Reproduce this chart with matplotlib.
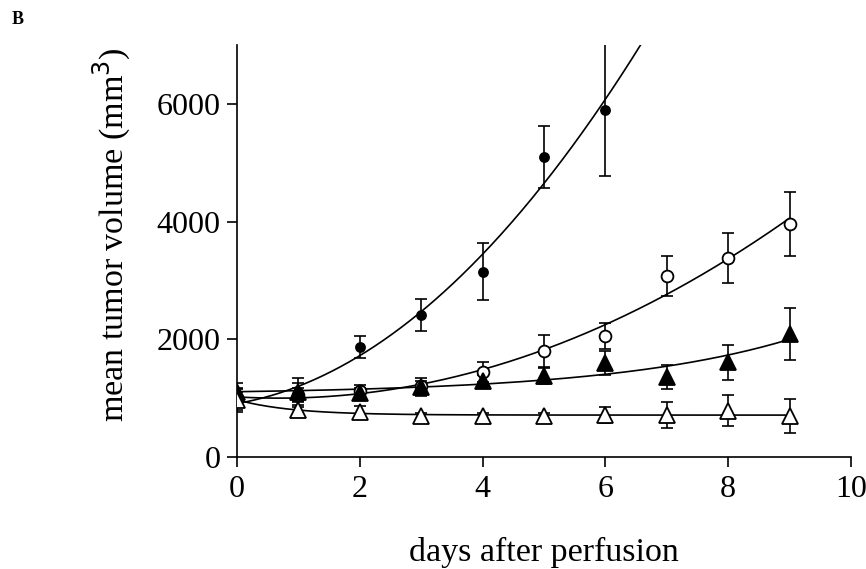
import numpy as np
import matplotlib
matplotlib.use('Agg')
import matplotlib.pyplot as plt

# values (mean tumor volume, mm^3)
days_a = [0, 1, 2, 3, 4, 5, 6]
vol_a = [950, 1100, 1870, 2410, 3150, 5100, 5900]          # filled circles
err_a = [150, 150, 190, 270, 480, 530, 1130]

days_b = [0, 1, 2, 3, 4, 5, 6, 7, 8, 9]
vol_b = [1000, 1050, 1120, 1200, 1440, 1800, 2060, 3080, 3380, 3960]   # open circles
err_b = [150, 120, 100, 100, 170, 270, 220, 340, 420, 550]

vol_c = [1100, 1100, 1080, 1190, 1300, 1380, 1600, 1360, 1610, 2090]   # filled triangles
err_c = [150, 250, 100, 160, 100, 136, 200, 200, 300, 450]

vol_d = [970, 800, 760, 690, 690, 690, 710, 720, 790, 690]             # open triangles
err_d = [200, 80, 100, 50, 50, 50, 136, 220, 260, 290]

x_ticks = [0, 2, 4, 6, 8, 10]
y_ticks = [0, 2000, 4000, 6000]


def fit_exp(x, y):
    # least squares fit of a + b*exp(k*x), k by grid search
    x = np.asarray(x, float)
    y = np.asarray(y, float)
    best = None
    for k in np.linspace(-2, 1, 601):
        if abs(k) < 1e-6:
            continue
        A = np.column_stack([np.ones_like(x), np.exp(k * x)])
        coef = np.linalg.lstsq(A, y, rcond=None)[0]
        sse = ((A @ coef - y) ** 2).sum()
        if best is None or sse < best[0]:
            best = (sse, k, coef)
    _, k, coef = best
    return lambda t: coef[0] + coef[1] * np.exp(k * t)


def fit_quad(x, y):
    return np.poly1d(np.polyfit(x, y, 2))


plt.rcParams['font.family'] = ['Liberation Serif', 'DejaVu Serif']

fig = plt.figure(figsize=(8.66, 5.69), dpi=100)
ax = fig.add_axes([0.2737, 0.1968, 0.709, 0.7241])

lw = 1.2
series = [
    (days_a, vol_a, err_a, fit_quad, dict(marker='o', ms=6.5, mfc='black')),
    (days_b, vol_b, err_b, fit_quad, dict(marker='o', ms=8.5, mfc='white')),
    (days_b, vol_c, err_c, fit_exp, dict(marker='^', ms=12, mfc='black')),
    (days_b, vol_d, err_d, fit_exp, dict(marker='^', ms=12, mfc='white')),
]

for x, y, e, fit, style in series:
    f = fit(x, y)
    t = np.linspace(0, max(x) + (1.0 if max(x) < 9 else 0), 300)
    ax.plot(t, f(t), color='black', lw=lw, zorder=2)

for x, y, e, fit, style in series:
    ax.errorbar(x, y, yerr=e, fmt='none', ecolor='black', elinewidth=lw,
                capsize=4.5, capthick=lw, zorder=3)
    ax.plot(x, y, linestyle='none', mec='black', mew=1.3, zorder=4, **style)

ax.set_xlim(0, 10)
ax.set_ylim(0, 7000)
ax.set_xticks(x_ticks)
ax.set_yticks(y_ticks)
ax.spines['top'].set_visible(False)
ax.spines['right'].set_visible(False)
for s in ('left', 'bottom'):
    ax.spines[s].set_linewidth(lw)
ax.tick_params(direction='out', length=7, width=lw, labelsize=23)
ax.tick_params(axis='x', pad=6)
ax.tick_params(axis='y', pad=5)

ax.set_xlabel('days after perfusion', fontsize=24.5, labelpad=24)
ax.set_ylabel('mean tumor volume (mm$^3$)', fontsize=24.5)
ax.yaxis.set_label_coords(-0.17, 0.54)

fig.text(0.014, 0.965, 'B', fontsize=13, fontweight='bold', va='center')

fig.savefig('out.png', dpi=100)
